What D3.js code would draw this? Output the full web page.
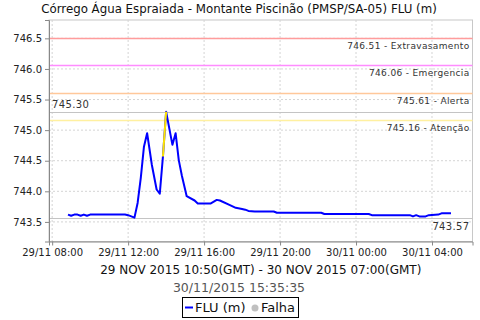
<html>
<head>
<script src="https://cdn.jsdelivr.net/npm/d3@7"></script>
<style>
    body { margin: 0; background: #fff; }
    svg { display: block; font-family: "DejaVu Sans", sans-serif; }
    .grid line { stroke: #d4d4d4; stroke-dasharray: 2,2; }
    .axis path, .axis line { stroke: #888; }
    .axis text { font-family: "DejaVu Sans", sans-serif; font-size: 10px; fill: #222; }
    .thr-label { font-size: 9px; letter-spacing: 0.35px; fill: #333; }
</style>
</head>
<body>
<svg id='chart' width=480 height=320></svg>
<script>

    // ---- data (local time) ----
    var flTimes = [
        '2015-11-29 08:50', '2015-11-29 09:00', '2015-11-29 09:10', '2015-11-29 09:20',
        '2015-11-29 09:30', '2015-11-29 09:40', '2015-11-29 09:50', '2015-11-29 10:00',
        '2015-11-29 11:50', '2015-11-29 12:00', '2015-11-29 12:10', '2015-11-29 12:20',
        '2015-11-29 12:30', '2015-11-29 12:40', '2015-11-29 12:50', '2015-11-29 13:00',
        '2015-11-29 13:15', '2015-11-29 13:30', '2015-11-29 13:40', '2015-11-29 13:50',
        '2015-11-29 14:00', '2015-11-29 14:20', '2015-11-29 14:30', '2015-11-29 14:40',
        '2015-11-29 14:50', '2015-11-29 15:05', '2015-11-29 15:30', '2015-11-29 15:40',
        '2015-11-29 16:20', '2015-11-29 16:40', '2015-11-29 16:50', '2015-11-29 17:20',
        '2015-11-29 17:40', '2015-11-29 18:00', '2015-11-29 18:10', '2015-11-29 18:20',
        '2015-11-29 18:40', '2015-11-29 19:40', '2015-11-29 19:50', '2015-11-29 22:10',
        '2015-11-29 22:20', '2015-11-30 00:40', '2015-11-30 00:50', '2015-11-30 02:50',
        '2015-11-30 03:00', '2015-11-30 03:10', '2015-11-30 03:20', '2015-11-30 03:40',
        '2015-11-30 03:50', '2015-11-30 04:20', '2015-11-30 04:30', '2015-11-30 05:00'
    ];

    var flValues = [
        743.62, 743.60, 743.62, 743.62,
        743.60, 743.62, 743.60, 743.62,
        743.62, 743.61, 743.59, 743.57,
        743.81, 744.22, 744.73, 744.95,
        744.43, 744.03, 743.96, 744.57,
        745.30, 744.76, 744.95, 744.51,
        744.25, 743.92, 743.85, 743.80,
        743.80, 743.86, 743.85, 743.78,
        743.73, 743.71, 743.70, 743.68,
        743.67, 743.67, 743.65, 743.65,
        743.63, 743.63, 743.61, 743.61,
        743.59, 743.61, 743.59, 743.59,
        743.61, 743.62, 743.64, 743.64
    ];

    // segment drawn in yellow (rise into the "Atenção" band)
    var warnSegment = ['2015-11-29 13:50', '2015-11-29 14:00'];

    var thrValues = [746.51, 746.06, 745.61, 745.16];
    var thrNames  = ['Extravasamento', 'Emergencia', 'Alerta', 'Aten\u00e7\u00e3o'];
    var thrColors = ['#ff9c9c', '#ff8cff', '#ffc89a', '#fff0a0'];

    var yTicks = [743.5, 744.0, 744.5, 745.0, 745.5, 746.0, 746.5];
    var xDomain = ['2015-11-29 07:50', '2015-11-30 06:08'];

    var titleText = 'C\u00f3rrego \u00c1gua Espraiada - Montante Piscin\u00e3o (PMSP/SA-05) FLU (m)';
    var periodText = '29 NOV 2015 10:50(GMT) - 30 NOV 2015 07:00(GMT)';
    var stampText = '30/11/2015 15:35:35';

    // ---- layout ----
    var svg = d3.select('#chart');
    var mLeft = 49, mRight = 472.5, mTop = 20, mBottom = 241.5;

    var parse = d3.timeParse('%Y-%m-%d %H:%M');
    var data = flTimes.map(function(t, i) { return { t: parse(t), v: flValues[i] }; });

    var x = d3.scaleTime()
        .domain(xDomain.map(parse))
        .range([mLeft, mRight]);

    var y = d3.scaleLinear()
        .domain([743.18, 746.80])
        .range([mBottom, mTop]);

    var xTicks = d3.timeHour.every(4).range(x.domain()[0], x.domain()[1]);

    // title
    svg.append('text')
        .attr('x', 239).attr('y', 12.5)
        .attr('text-anchor', 'middle')
        .style('font-size', '11.8px').style('fill', '#111')
        .text(titleText);

    // frame
    svg.append('rect')
        .attr('x', mLeft).attr('y', mTop)
        .attr('width', mRight - mLeft).attr('height', mBottom - mTop)
        .attr('fill', 'none').attr('stroke', '#c8c8c8');

    // grid
    var grid = svg.append('g').attr('class', 'grid');
    grid.selectAll('.gx').data(xTicks).enter().append('line')
        .attr('x1', function(d) { return x(d); }).attr('x2', function(d) { return x(d); })
        .attr('y1', mTop).attr('y2', mBottom);
    grid.selectAll('.gy').data(yTicks).enter().append('line')
        .attr('y1', function(d) { return y(d); }).attr('y2', function(d) { return y(d); })
        .attr('x1', mLeft).attr('x2', mRight);

    // thresholds
    var thr = svg.append('g');
    thr.selectAll('line').data(thrValues).enter().append('line')
        .attr('x1', mLeft).attr('x2', mRight)
        .attr('y1', function(d) { return Math.round(y(d)) + 0.5; })
        .attr('y2', function(d) { return Math.round(y(d)) + 0.5; })
        .attr('stroke', function(d, i) { return thrColors[i]; })
        .attr('stroke-width', 1.5);
    thr.selectAll('text').data(thrValues).enter().append('text')
        .attr('class', 'thr-label')
        .attr('x', mRight - 3)
        .attr('y', function(d) { return y(d) + 11; })
        .attr('text-anchor', 'end')
        .text(function(d, i) { return d.toFixed(2) + ' - ' + thrNames[i]; });

    // max / min markers
    var vMax = d3.max(flValues), vMin = d3.min(flValues);
    [vMax, vMin].forEach(function(v) {
        svg.append('line')
            .attr('x1', mLeft).attr('x2', mRight)
            .attr('y1', Math.round(y(v)) + 0.5).attr('y2', Math.round(y(v)) + 0.5)
            .attr('stroke', '#c4c4c4').attr('stroke-width', 1.2);
    });
    svg.append('text').attr('class', 'thr-label')
        .attr('x', mLeft + 3).attr('y', y(vMax) - 4)
        .style('font-size', '10px')
        .text(vMax.toFixed(2));
    svg.append('text').attr('class', 'thr-label')
        .attr('x', mRight - 3).attr('y', y(vMin) + 12)
        .attr('text-anchor', 'end')
        .style('font-size', '10px')
        .text(vMin.toFixed(2));

    // axes
    svg.append('g').attr('class', 'axis')
        .attr('transform', 'translate(' + mLeft + ',0)')
        .call(d3.axisLeft(y).tickValues(yTicks).tickFormat(d3.format('.1f')).tickSizeOuter(0).tickSize(4));
    svg.append('g').attr('class', 'axis')
        .attr('transform', 'translate(0,' + mBottom + ')')
        .call(d3.axisBottom(x).tickValues(xTicks).tickFormat(d3.timeFormat('%d/%m %H:%M')).tickSizeOuter(0).tickSize(4));

    // series
    var line = d3.line()
        .x(function(d) { return x(d.t); })
        .y(function(d) { return y(d.v); });

    svg.append('path')
        .datum(data)
        .attr('d', line)
        .attr('fill', 'none')
        .attr('stroke', '#0000ff')
        .attr('stroke-width', 2)
        .attr('stroke-linejoin', 'round');

    var w0 = parse(warnSegment[0]).getTime(), w1 = parse(warnSegment[1]).getTime();
    svg.append('path')
        .datum(data.filter(function(d) { return d.t.getTime() >= w0 && d.t.getTime() <= w1; }))
        .attr('d', line)
        .attr('fill', 'none')
        .attr('stroke', '#ffe600')
        .attr('stroke-width', 2);

    // footer texts
    svg.append('text')
        .attr('x', (mLeft + mRight) / 2).attr('y', 273.5)
        .attr('text-anchor', 'middle')
        .style('font-size', '12px').style('fill', '#111')
        .text(periodText);
    svg.append('text')
        .attr('x', 239).attr('y', 292)
        .attr('text-anchor', 'middle')
        .style('font-size', '12.5px').style('fill', '#555')
        .text(stampText);

    // legend
    var lg = svg.append('g');
    lg.append('rect')
        .attr('x', 182.5).attr('y', 297.5).attr('width', 116).attr('height', 20)
        .attr('fill', '#fff').attr('stroke', '#000');
    lg.append('line')
        .attr('x1', 185).attr('x2', 193).attr('y1', 307.5).attr('y2', 307.5)
        .attr('stroke', '#0000ff').attr('stroke-width', 2);
    lg.append('text')
        .attr('x', 195).attr('y', 312)
        .style('font-size', '13px').style('fill', '#111')
        .text('FLU (m)');
    lg.append('circle')
        .attr('cx', 255).attr('cy', 308).attr('r', 3.5)
        .attr('fill', '#c0c0c0');
    lg.append('text')
        .attr('x', 261).attr('y', 312)
        .style('font-size', '13px').style('fill', '#111')
        .text('Falha');

</script>
</body>
</html>
